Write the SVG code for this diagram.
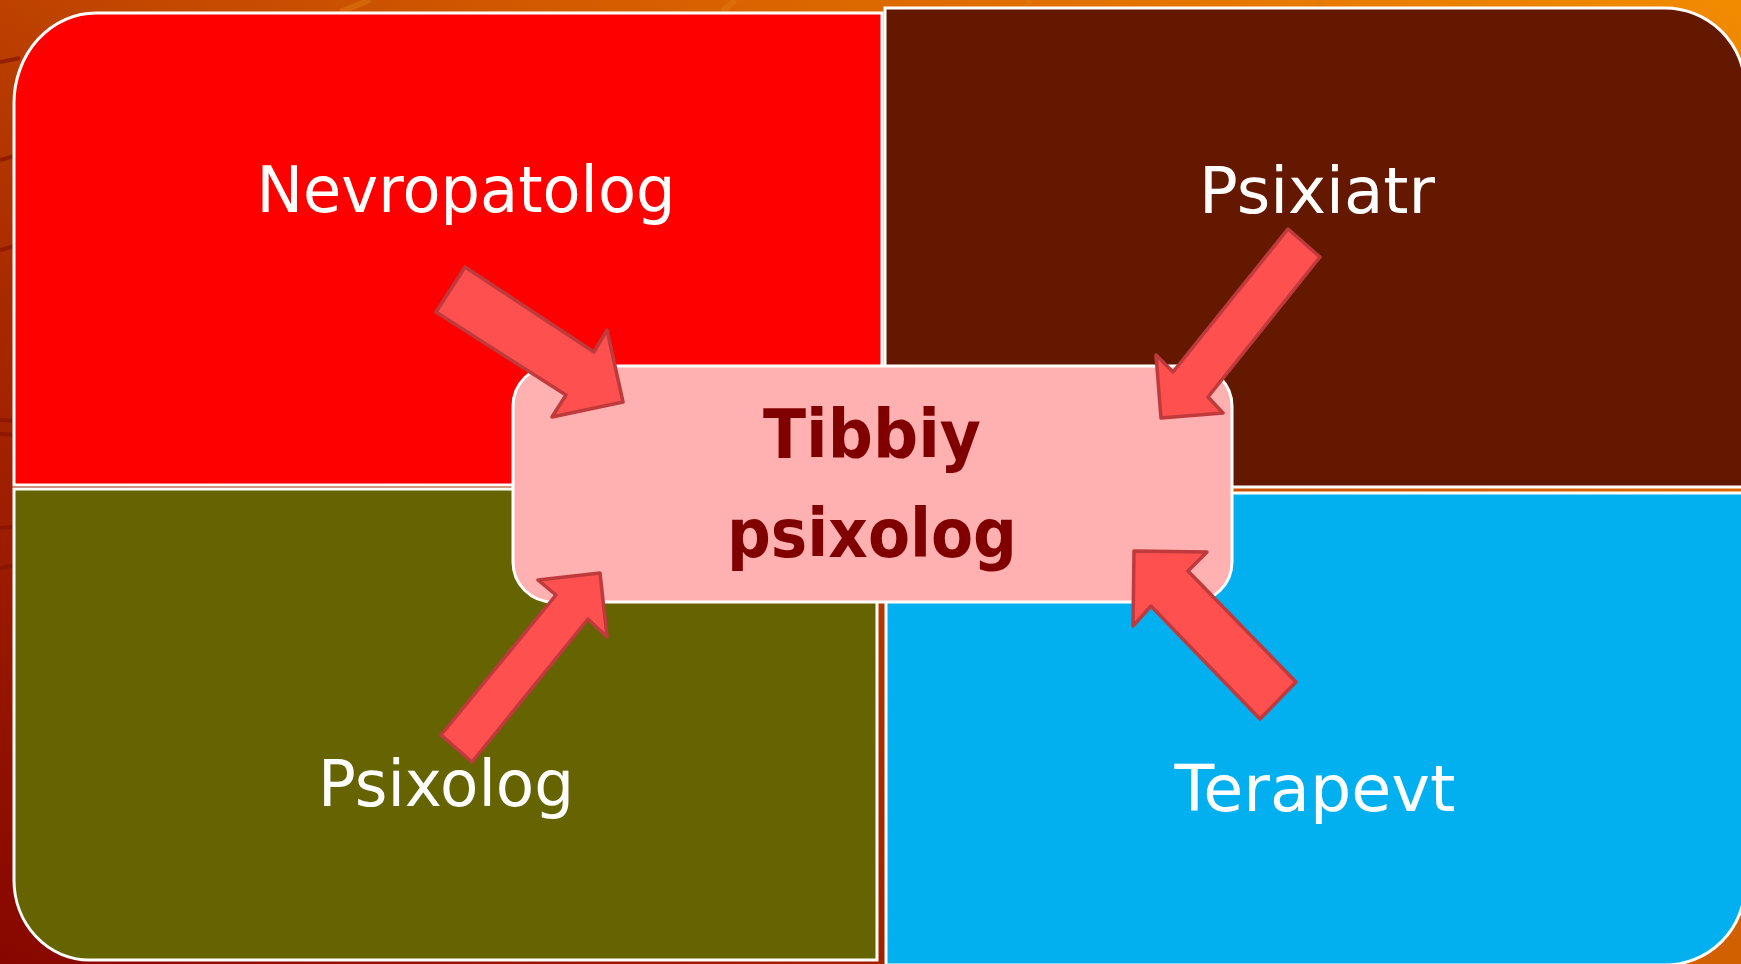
<svg xmlns="http://www.w3.org/2000/svg" width="1741" height="964" viewBox="0 0 1741 964">
  <defs>
    <linearGradient id="bg" x1="0" y1="1" x2="1" y2="0">
      <stop offset="0" stop-color="#870600"/>
      <stop offset="0.35" stop-color="#a82a00"/>
      <stop offset="0.7" stop-color="#d86200"/>
      <stop offset="1" stop-color="#f28c00"/>
    </linearGradient>
    <style>
      .panel { stroke: #ffffff; stroke-width: 3; }
      .label { font-family: "DejaVu Sans", Verdana, sans-serif; font-size: 64px; fill: #ffffff; text-anchor: middle; }
      .center { font-family: "DejaVu Sans", Verdana, sans-serif; font-size: 67px; font-weight: bold; fill: #800000; text-anchor: middle; }
      .arrow { fill: #ff5050; stroke: #bf3a3c; stroke-width: 3.5; stroke-linejoin: round; }
      .streak { fill: none; stroke: #861200; stroke-width: 4; opacity: 0.7; }
      .light { fill: none; stroke: #e07a10; stroke-width: 6; opacity: 0.5; }
    </style>
  </defs>

  <rect x="0" y="0" width="1741" height="964" fill="url(#bg)"/>
  <g id="background-streaks">
    <path class="streak" d="M0 62 Q10 60 20 58"/>
    <path class="streak" d="M0 160 Q10 157 20 155"/>
    <path class="streak" d="M0 250 Q10 247 20 245"/>
    <path class="streak" d="M0 420 Q10 420 20 422"/>
    <path class="streak" d="M0 434 Q10 434 20 436"/>
    <path class="streak" d="M0 528 Q10 527 20 526"/>
    <path class="streak" d="M0 568 Q10 566 20 565"/>
    <path class="light" d="M370 0 L340 12"/>
    <path class="light" d="M735 0 L722 12"/>
    <path class="light" d="M1030 0 L1025 10"/>
    <path class="light" d="M1320 0 L1318 10"/>
    <path d="M1741 900 L1741 964 L1680 964 Z" fill="#d06000"/>
  </g>

  <g id="nevropatolog">
    <path class="panel" fill="#ff0000" d="M14 485 L14 103 A82 90 0 0 1 96 13 L882 13 L882 485 Z"/>
    <text class="label" x="466" y="212" textLength="419" lengthAdjust="spacingAndGlyphs">Nevropatolog</text>
  </g>

  <g id="psixiatr">
    <path class="panel" fill="#651800" d="M885 487 L885 8 L1665 8 A80 80 0 0 1 1745 88 L1745 487 Z"/>
    <text class="label" x="1317" y="213" textLength="236" lengthAdjust="spacingAndGlyphs">Psixiatr</text>
  </g>

  <g id="psixolog">
    <path class="panel" fill="#656400" d="M14 489 L877 489 L877 960 L89 960 A75 80 0 0 1 14 880 Z"/>
    <text class="label" x="446" y="806" textLength="256" lengthAdjust="spacingAndGlyphs">Psixolog</text>
  </g>

  <g id="terapevt">
    <path class="panel" fill="#02b0f0" d="M886 493 L1745 493 L1745 885 A80 80 0 0 1 1665 965 L886 965 Z"/>
    <text class="label" x="1315" y="811" textLength="281" lengthAdjust="spacingAndGlyphs">Terapevt</text>
  </g>

  <g id="tibbiy-psixolog">
    <rect x="513" y="366" width="719" height="236" rx="40" ry="40" fill="#ffb0b0" stroke="#ffffff" stroke-width="3"/>
    <text class="center" x="872" y="458" textLength="218" lengthAdjust="spacingAndGlyphs">Tibbiy</text>
    <text class="center" x="872" y="557" textLength="290" lengthAdjust="spacingAndGlyphs">psixolog</text>
  </g>

  <g id="connectors">
    <polygon class="arrow" points="465,267 594,352 607,330 623,402 552,417 566,395 436,312"/>
    <polygon class="arrow" points="1288,229 1320,257 1208,397 1223,413 1161,418 1156,355 1173,372"/>
    <polygon class="arrow" points="441,735 472,762 588,619 607,637 600,573 538,580 556,595"/>
    <polygon class="arrow" points="1296,682 1260,719 1151,606 1133,626 1134,551 1207,552 1188,571"/>
  </g>
</svg>
